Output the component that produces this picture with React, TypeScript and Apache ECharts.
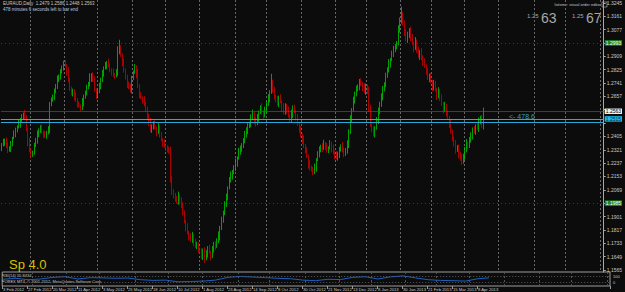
import React, { useEffect, useRef } from 'react';
import * as echarts from 'echarts';

// Daily closes in pips (price * 10000), from 3 Feb 2012
const closesPips = [
  12351, 12370, 12383, 12345, 12320, 12333, 12358, 12396, 12421, 12446, 12465, 12484, 12509, 12528, 12547, 12522,
  12446, 12370, 12320, 12288, 12307, 12345, 12383, 12414, 12446, 12459, 12433, 12421, 12408, 12427, 12446, 12610,
  12635, 12660, 12685, 12723, 12761, 12786, 12811, 12837, 12862, 12849, 12811, 12761, 12711, 12673, 12685, 12660,
  12635, 12610, 12597, 12585, 12622, 12654, 12685, 12711, 12736, 12774, 12792, 12761, 12698, 12660, 12685, 12723,
  12761, 12799, 12837, 12855, 12868, 12849, 12824, 12811, 12792, 12786, 12811, 12937, 12963, 12918, 12874, 12824,
  12774, 12736, 12711, 12698, 12774, 12811, 12837, 12799, 12723, 12666, 12648, 12635, 12610, 12572, 12534, 12496,
  12446, 12471, 12484, 12459, 12433, 12459, 12414, 12383, 12364, 12345, 12333, 12320, 12307, 12144, 12055, 12030,
  12018, 11992, 12030, 12005, 11967, 11929, 11866, 11829, 11803, 11778, 11753, 11778, 11740, 11715, 11728, 11690,
  11677, 11652, 11690, 11640, 11665, 11703, 11677, 11652, 11690, 11728, 11715, 11753, 11778, 11829, 11879, 11929,
  11973, 12030, 12081, 12131, 12156, 12181, 12207, 12244, 12270, 12307, 12333, 12345, 12383, 12408, 12446, 12471,
  12484, 12522, 12547, 12509, 12484, 12522, 12559, 12585, 12559, 12534, 12572, 12610, 12648, 12685, 12748, 12698,
  12660, 12635, 12610, 12648, 12622, 12585, 12559, 12597, 12572, 12534, 12509, 12547, 12585, 12559, 12522, 12484,
  12446, 12408, 12383, 12345, 12320, 12282, 12232, 12207, 12194, 12181, 12207, 12257, 12295, 12320, 12345, 12333,
  12358, 12345, 12320, 12333, 12358, 12333, 12307, 12282, 12270, 12295, 12320, 12345, 12320, 12295, 12320, 12358,
  12433, 12509, 12572, 12635, 12673, 12698, 12723, 12748, 12736, 12711, 12685, 12723, 12698, 12572, 12484, 12446,
  12421, 12459, 12509, 12559, 12610, 12660, 12698, 12736, 12786, 12824, 12862, 12887, 12925, 12950, 12975, 12988,
  13076, 13139, 13177, 13114, 13063, 13013, 13038, 13076, 13026, 12988, 12963, 13000, 12950, 12912, 12937, 12900,
  12874, 12849, 12811, 12774, 12786, 12748, 12711, 12736, 12698, 12660, 12685, 12648, 12610, 12572, 12597, 12547,
  12522, 12484, 12433, 12396, 12358, 12320, 12333, 12295, 12270, 12244, 12282, 12320, 12358, 12345, 12383, 12408,
  12446, 12433, 12471, 12459, 12496, 12522, 12479, 12563,
];
const firstOpenPips = 12330;

// Upper wick beyond body (pips)
const upWick = [
  12, 20, 8, 15, 25, 10, 18, 6, 22, 14, 9, 30, 12, 17, 8, 25,
  18, 10, 26, 14, 8, 20, 12, 28, 9, 16, 22, 7, 19, 13, 24, 11,
  15, 9, 21, 12, 27, 8, 17, 14, 19, 24, 10, 30, 13, 8, 20, 16,
  22, 11, 16, 9, 25, 14, 7, 19, 12, 28, 10, 17, 23, 9, 15, 20,
  13, 24, 8, 18, 11, 26, 15, 9, 21, 12, 17, 35, 50, 16, 10, 22,
  9, 19, 14, 27, 12, 8, 22, 16, 30, 11, 18, 9, 24, 13, 20, 15,
  26, 10, 17, 22, 8, 29, 14, 19, 11, 23, 9, 16, 21, 34, 12, 18,
  20, 13, 28, 9, 17, 24, 11, 15, 30, 8, 19, 26, 12, 22, 14, 10,
  16, 27, 9, 18, 23, 12, 20, 8, 25, 14, 17, 11, 29, 13, 21, 9,
  24, 15, 10, 19, 28, 12, 17, 22, 9, 26, 14, 18, 11, 31, 16, 20,
  13, 21, 27, 10, 18, 24, 9, 16, 29, 12, 20, 15, 23, 11, 51, 14,
  19, 8, 25, 14, 22, 10, 28, 17, 12, 21, 9, 26, 15, 19, 11, 24,
  10, 23, 16, 28, 12, 18, 9, 24, 14, 20, 27, 11, 17, 22, 8, 19,
  26, 13, 19, 9, 24, 15, 21, 11, 30, 14, 18, 10, 25, 16, 12, 22,
  17, 29, 11, 20, 14, 26, 9, 18, 23, 12, 28, 15, 10, 21, 33, 13,
  22, 10, 18, 27, 13, 16, 24, 9, 20, 15, 29, 11, 19, 25, 12, 17,
  28, 14, 44, 12, 21, 17, 26, 10, 19, 23, 13, 30, 15, 20, 11, 24,
  16, 22, 9, 27, 14, 19, 11, 25, 18, 12, 30, 15, 21, 10, 26, 13,
  20, 12, 28, 15, 9, 24, 17, 21, 11, 26, 14, 19, 31, 13, 18, 22,
  15, 24, 10, 19, 27, 13, 18, 23,
];

// Lower wick beyond body (pips)
const downWick = [
  18, 9, 24, 13, 20, 11, 27, 15, 8, 22, 16, 10, 25, 14, 19, 12,
  9, 28, 15, 21, 12, 17, 8, 24, 14, 19, 11, 26, 13, 18, 10, 22,
  16, 12, 27, 9, 20, 14, 23, 11, 18, 8, 25, 15, 21, 10, 17, 29,
  13, 24, 10, 19, 15, 28, 12, 22, 9, 17, 26, 14, 11, 20, 16, 8,
  21, 14, 18, 11, 27, 9, 16, 23, 13, 19, 10, 25, 15, 12, 28, 17,
  11, 26, 9, 18, 22, 15, 12, 29, 14, 20, 8, 24, 17, 10, 19, 27,
  14, 19, 23, 10, 28, 12, 17, 9, 25, 13, 21, 16, 11, 30, 18, 15,
  24, 11, 16, 29, 13, 20, 8, 22, 15, 27, 10, 18, 26, 12, 19, 21,
  10, 18, 25, 31, 14, 22, 9, 27, 12, 16, 24, 11, 19, 28, 13, 17,
  20, 12, 27, 9, 16, 23, 14, 19, 30, 11, 17, 25, 13, 21, 10, 26,
  15, 22, 11, 28, 18, 9, 24, 13, 17, 26, 10, 20, 14, 29, 12, 19,
  23, 16, 12, 21, 9, 27, 15, 18, 25, 11, 20, 14, 28, 10, 17, 13,
  18, 9, 26, 14, 21, 12, 29, 16, 10, 19, 13, 24, 8, 22, 15, 27,
  12, 25, 17, 20, 10, 28, 14, 23, 9, 18, 26, 11, 16, 21, 13, 24,
  27, 13, 20, 9, 24, 16, 11, 28, 15, 22, 10, 19, 25, 12, 18, 14,
  16, 23, 11, 26, 14, 19, 28, 10, 21, 13, 17, 25, 9, 20, 15, 22,
  11, 18, 24, 13, 27, 10, 20, 15, 23, 9, 29, 14, 19, 12, 26, 16,
  25, 12, 19, 14, 28, 10, 22, 17, 11, 26, 15, 20, 13, 24, 9, 18,
  14, 27, 10, 21, 16, 23, 12, 29, 18, 19, 11, 25, 15, 20, 13, 17,
  22, 10, 18, 13, 26, 15, 20, 31,
];

// Price-axis tick labels
const priceTicks = [
  1.1565, 1.1649, 1.1733, 1.1817, 1.1901, 1.1985, 1.2069, 1.2153, 1.2237, 1.2321, 1.2405,
  1.2489, 1.2573, 1.2657, 1.2741, 1.2825, 1.2909, 1.2993, 1.3077, 1.3161, 1.3245,
];
const priceMin = 1.1552;
const priceMax = 1.3263;

// Indicator (RSI 14) read every 8 bars, plus last bar
const rsiSamples = [
  48, 55, 45, 50, 62, 66, 50, 60, 58, 55, 57, 45, 40, 42, 30, 32, 35, 42, 62, 68,
  64, 60, 55, 52, 42, 38, 48, 46, 62, 66, 50, 65, 72, 58, 45, 40, 38, 35, 52,
];
const rsiStep = 8;
const rsiLast = 58;
const rsiLevels = [70, 30];
const rsiScaleLabels = ['100', '0'];

// Levels drawn on the chart
const bidPrice = 1.2563;
const cyanLevels = [1.2515, 1.2496];
const greenLevels = [1.2993, 1.1985];

const holidays = ['2012-12-25', '2013-01-01'];
const totalSlots = 389;
const labelEvery = 16;
const lastLabelIndex = 304;
const months = ['Jan', 'Feb', 'Mar', 'Apr', 'May', 'Jun', 'Jul', 'Aug', 'Sep', 'Oct', 'Nov', 'Dec'];

function buildDates(): Date[] {
  const out: Date[] = [];
  let t = Date.UTC(2012, 1, 3);
  while (out.length < totalSlots) {
    const d = new Date(t);
    const wd = d.getUTCDay();
    const iso = d.toISOString().slice(0, 10);
    if (wd !== 0 && wd !== 6 && !holidays.includes(iso)) out.push(d);
    t += 86400000;
  }
  return out;
}

export default function App() {
  const ref = useRef<HTMLDivElement>(null);

  useEffect(() => {
    if (!ref.current) return;
    const chart = echarts.init(ref.current, undefined, { renderer: 'svg' });

    const dates = buildDates();
    const cats = dates.map((d) => `${d.getUTCDate()} ${months[d.getUTCMonth()]} ${d.getUTCFullYear()}`);
    const monthStart = new Set<number>();
    dates.forEach((d, i) => {
      if (i > 0 && d.getUTCMonth() !== dates[i - 1].getUTCMonth()) monthStart.add(i);
    });

    const candles = closesPips.map((c, i) => {
      const o = i === 0 ? firstOpenPips : closesPips[i - 1];
      const hi = Math.max(o, c) + upWick[i];
      const lo = Math.min(o, c) - downWick[i];
      return [o / 10000, c / 10000, lo / 10000, hi / 10000];
    });

    const rsi: (number | null)[] = closesPips.map(() => null);
    rsiSamples.forEach((v, k) => {
      rsi[k * rsiStep] = v;
    });
    rsi[closesPips.length - 1] = rsiLast;

    // axis labels hidden beneath the price boxes of the marked levels
    const boxed = [...greenLevels, bidPrice, cyanLevels[0]];
    const visibleTicks = priceTicks.filter((t) => !boxed.some((b) => Math.abs(b - t) < 0.0032));

    const font = 'Liberation Sans';
    const labelFn = (idx: number) => idx % labelEvery === 0 && idx <= lastLabelIndex;
    const boxLabel = (v: number, bg: string, fg: string) => ({
      show: true, position: 'end', distance: 1, formatter: v.toFixed(4), color: fg, backgroundColor: bg,
      fontSize: 5, fontFamily: font, padding: [0.5, 1, 0, 1],
    });

    chart.setOption({
      animation: false,
      backgroundColor: '#0c0c0c',
      grid: [
        { left: 1, top: 0, width: 609, height: 272, show: false },
        { left: 1, top: 272, width: 609, height: 14, show: true, borderColor: '#9c9c9c', borderWidth: 1, backgroundColor: 'transparent' },
      ],
      xAxis: [
        {
          type: 'category', gridIndex: 0, data: cats, boundaryGap: true,
          axisLine: { show: false }, axisTick: { show: false }, axisLabel: { show: false },
          splitLine: { show: true, interval: (i: number) => monthStart.has(i), lineStyle: { color: '#666666', type: [2, 2], width: 1 } },
        },
        {
          type: 'category', gridIndex: 1, data: cats, boundaryGap: true,
          axisLine: { show: false },
          axisTick: { show: true, interval: labelFn, length: 3, lineStyle: { color: '#9c9c9c' } },
          axisLabel: { show: true, interval: labelFn, showMinLabel: true, align: 'left', color: '#c8c8c8', fontSize: 4.2, fontFamily: font, margin: 1 },
          splitLine: { show: true, interval: (i: number) => monthStart.has(i), lineStyle: { color: '#555555', type: [2, 2], width: 1 } },
        },
      ],
      yAxis: [
        {
          type: 'value', gridIndex: 0, position: 'right', min: priceMin, max: priceMax, scale: true,
          axisLine: { show: true, lineStyle: { color: '#a8a8a8' } },
          axisTick: { show: true, length: 2, customValues: priceTicks, lineStyle: { color: '#a8a8a8' } },
          axisLabel: { show: true, customValues: visibleTicks, formatter: (v: number) => v.toFixed(4), color: '#c8c8c8', fontSize: 5, fontFamily: font, margin: 3 },
          splitLine: { show: false },
        },
        {
          type: 'value', gridIndex: 1, position: 'right', min: 0, max: 100,
          axisLine: { show: false }, axisTick: { show: false }, axisLabel: { show: false },
          splitLine: { show: false },
        },
      ],
      series: [
        {
          type: 'candlestick', xAxisIndex: 0, yAxisIndex: 0, data: candles, barWidth: 1,
          itemStyle: { color: '#00ee00', color0: '#ee0000', borderColor: '#00c800', borderColor0: '#d00000', borderWidth: 0.8 },
          markLine: {
            silent: true, symbol: ['none', 'none'], animation: false, precision: 4,
            data: [
              ...greenLevels.map((v) => ({
                yAxis: v,
                lineStyle: { color: '#3a3a3a', type: [1, 3], width: 1 },
                label: boxLabel(v, '#1f8a1f', '#ffffff'),
              })),
              {
                yAxis: bidPrice,
                lineStyle: { color: '#555555', type: 'solid', width: 0.7 },
                label: boxLabel(bidPrice, '#f0f0f0', '#000000'),
              },
              {
                yAxis: cyanLevels[0],
                lineStyle: { color: '#2aa8d8', type: 'solid', width: 1.1 },
                label: boxLabel(cyanLevels[0], '#1fb8f0', '#003040'),
              },
              {
                yAxis: cyanLevels[1],
                lineStyle: { color: '#2aa8d8', type: 'solid', width: 1.1 },
                label: { show: false },
              },
            ],
          },
        },
        {
          type: 'line', xAxisIndex: 1, yAxisIndex: 1, data: rsi, connectNulls: true, showSymbol: false, symbol: 'none',
          lineStyle: { color: '#2060c0', width: 1 },
          markLine: {
            silent: true, symbol: ['none', 'none'], animation: false,
            data: rsiLevels.map((v) => ({ yAxis: v })),
            lineStyle: { color: '#5a5a5a', type: [1, 2], width: 1 },
            label: { show: false },
          },
        },
      ],
      graphic: [
        { type: 'text', x: 3, y: 1, style: { text: 'EURAUD,Daily  1.2479 1.2586 1.2448 1.2563', fill: '#c8c8c8', fontSize: 4.5, fontFamily: font } },
        { type: 'text', x: 3, y: 7, style: { text: '478 minutes 6 seconds left to bar end', fill: '#b8c8e0', fontSize: 4.5, fontFamily: font } },
        { type: 'text', x: 601, y: 2, style: { text: 'lsitsme: visual order editor', fill: '#c8c8c8', fontSize: 4, fontFamily: font, align: 'right' } },
        { type: 'rect', shape: { x: 602, y: 2, width: 5, height: 5 }, style: { fill: 'none', stroke: '#a0a0a0', lineWidth: 0.7 } },
        { type: 'text', x: 527, y: 13, style: { text: '1.25', fill: '#a8a8a8', fontSize: 6, fontFamily: font } },
        { type: 'text', x: 541, y: 11, style: { text: '63', fill: '#a8a8a8', fontSize: 14, fontFamily: font } },
        { type: 'text', x: 572, y: 13, style: { text: '1.25', fill: '#a8a8a8', fontSize: 6, fontFamily: font } },
        { type: 'text', x: 586, y: 11, style: { text: '67', fill: '#a8a8a8', fontSize: 14, fontFamily: font } },
        { type: 'text', x: 509, y: 112.5, style: { text: '<- 478.6', fill: '#3a9cc0', fontSize: 7, fontFamily: font } },
        { type: 'text', x: 9, y: 258, style: { text: 'Sp 4.0', fill: '#d8c000', fontSize: 13, fontFamily: font } },
        { type: 'text', x: 2, y: 273, style: { text: 'RSI(14) 55.8434', fill: '#c8c8c8', fontSize: 4, fontFamily: font } },
        { type: 'text', x: 2, y: 279, style: { text: 'FOREX MT4, © 2001-2012, MetaQuotes Software Corp.', fill: '#c8c8c8', fontSize: 4, fontFamily: font } },
        { type: 'text', x: 613, y: 274, style: { text: rsiScaleLabels[0], fill: '#c8c8c8', fontSize: 4, fontFamily: font } },
        { type: 'text', x: 613, y: 280, style: { text: rsiScaleLabels[1], fill: '#c8c8c8', fontSize: 4, fontFamily: font } },
      ],
    });

    return () => chart.dispose();
  }, []);

  return (
    <div
      ref={ref}
      style={{ position: 'fixed', left: 0, top: 0, width: 625, height: 292, background: '#0c0c0c' }}
    />
  );
}
